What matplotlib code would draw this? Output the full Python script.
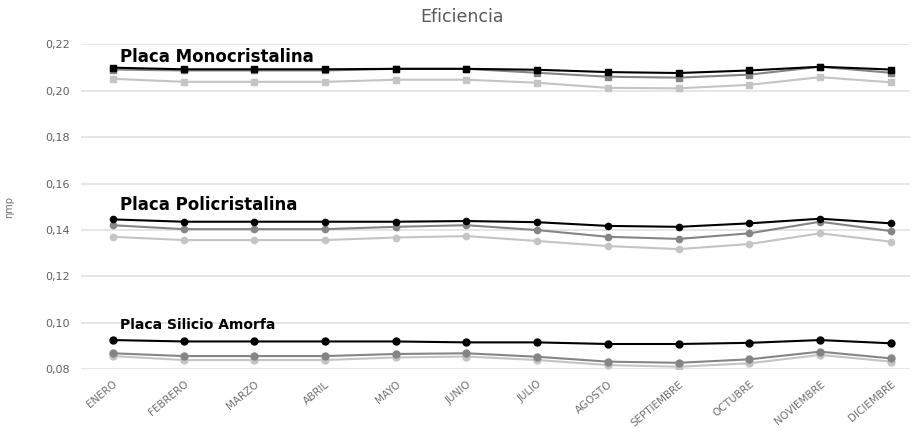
import numpy as np
import matplotlib
matplotlib.use('Agg')
import matplotlib.pyplot as plt

meses = ['ENERO', 'FEBRERO', 'MARZO', 'ABRIL', 'MAYO', 'JUNIO', 'JULIO',
         'AGOSTO', 'SEPTIEMBRE', 'OCTUBRE', 'NOVIEMBRE', 'DICIEMBRE']

# placa monocristalina
mono_a = [0.2100, 0.2093, 0.2093, 0.2093, 0.2095, 0.2095, 0.2091, 0.2081, 0.2077, 0.2088, 0.2104, 0.2092]
mono_b = [0.2092, 0.2088, 0.2088, 0.2088, 0.2095, 0.2095, 0.2078, 0.2061, 0.2057, 0.2070, 0.2104, 0.2078]
mono_c = [0.2052, 0.2039, 0.2039, 0.2039, 0.2048, 0.2048, 0.2035, 0.2013, 0.2011, 0.2026, 0.2059, 0.2037]

# placa policristalina
poli_a = [0.1446, 0.1436, 0.1436, 0.1436, 0.1436, 0.1439, 0.1434, 0.1418, 0.1414, 0.1429, 0.1449, 0.1429]
poli_b = [0.1421, 0.1404, 0.1404, 0.1404, 0.1414, 0.1421, 0.1400, 0.1371, 0.1362, 0.1386, 0.1436, 0.1396]
poli_c = [0.1371, 0.1357, 0.1357, 0.1357, 0.1368, 0.1374, 0.1353, 0.1331, 0.1318, 0.1340, 0.1386, 0.1350]

# placa silicio amorfa
amor_a = [0.0926, 0.0920, 0.0920, 0.0920, 0.0920, 0.0916, 0.0916, 0.0909, 0.0909, 0.0914, 0.0926, 0.0912]
amor_b = [0.0869, 0.0857, 0.0857, 0.0857, 0.0866, 0.0869, 0.0854, 0.0833, 0.0828, 0.0843, 0.0876, 0.0847]
amor_c = [0.0857, 0.0840, 0.0840, 0.0840, 0.0851, 0.0855, 0.0840, 0.0818, 0.0811, 0.0826, 0.0862, 0.0833]

colores = ['#c4c4c4', '#858585', '#000000']

fig = plt.figure(figsize=(9.15, 4.36), dpi=100)
ax = fig.add_axes([0.0885, 0.153, 0.906, 0.745])
x = np.arange(len(meses))

for serie, col in zip([mono_c, mono_b, mono_a], colores):
    ax.plot(x, serie, color=col, marker='s', markersize=5, linewidth=1.5)
for serie, col in zip([poli_c, poli_b, poli_a], colores):
    ax.plot(x, serie, color=col, marker='o', markersize=4.5, linewidth=1.5)
for serie, col in zip([amor_c, amor_b, amor_a], colores):
    ax.plot(x, serie, color=col, marker='o', markersize=5, linewidth=1.5)

ax.text(0.1, 0.2145, 'Placa Monocristalina', fontsize=12, fontweight='bold', va='center')
ax.text(0.1, 0.1508, 'Placa Policristalina', fontsize=12, fontweight='bold', va='center')
ax.text(0.1, 0.0991, 'Placa Silicio Amorfa', fontsize=10, fontweight='bold', va='center')

ax.set_ylim(0.08, 0.22)
ax.set_xlim(-0.45, 11.27)
ax.set_yticks(np.arange(0.08, 0.2201, 0.02))
ax.set_yticklabels([('%.2f' % v).replace('.', ',') for v in np.arange(0.08, 0.2201, 0.02)],
                   fontsize=8, color='#606060')
ax.set_xticks(x)
ax.set_xticklabels(meses, rotation=40, ha='right', rotation_mode='anchor',
                   fontsize=7.5, color='#707070')
ax.tick_params(length=0, pad=8)
ax.tick_params(axis='x', pad=7)
ax.grid(axis='y', color='#e2e2e2', linewidth=1.2)
ax.set_axisbelow(True)
for s in ax.spines.values():
    s.set_visible(False)

ax.set_ylabel('ηmp', fontsize=7, color='#707070', labelpad=22)
fig.text(0.505, 0.962, 'Eficiencia', fontsize=12.5, color='#595959', ha='center', va='center')

plt.savefig('out.png')
